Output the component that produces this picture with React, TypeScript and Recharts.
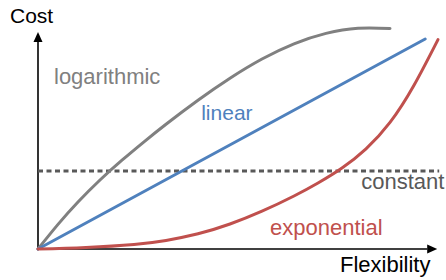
import {
  LineChart,
  Line,
  XAxis,
  YAxis,
  ReferenceLine,
  ReferenceDot,
} from "recharts";

// values (x: 0..100 flexibility, y: 0..~110 cost)
const logX = [0, 5, 10, 15.5, 21, 26.5, 32, 40, 48, 56, 64, 72, 80, 88];
const logY = [0, 12.3, 23.5, 34.5, 44.4, 53.6, 62.4, 74.4, 85.4, 95, 102.6, 107.8, 110.4, 110.3];

const linX = [0, 35.5, 96.8];
const linY = [0, 38.5, 105];

const expX = [0, 12, 24, 32, 40, 48, 56, 64, 70, 76, 82, 88, 94, 100];
const expY = [0, 0.8, 2.3, 4.3, 7.6, 12.5, 18.9, 26.5, 33, 40.5, 50.1, 63.3, 81.9, 104.7];

const constX = [0, 100.3];
const constY = [39, 39];

const labelNames = ["Cost", "logarithmic", "linear", "constant", "exponential", "Flexibility"];
const labelX = [-7, 4, 40.8, 80.8, 58, 75.5];
const labelY = [113, 82.5, 64.5, 30, 7, -11.5];
const labelColors = ["#000000", "#808080", "#4f81bd", "#595959", "#c0504d", "#000000"];
const labelSizes = [21, 22, 21, 22, 22, 22];

const toPoints = (xs: number[], ys: number[]) => xs.map((x, i) => ({ x, y: ys[i] }));

const logData = toPoints(logX, logY);
const linData = toPoints(linX, linY);
const expData = toPoints(expX, expY);
const constData = toPoints(constX, constY);

const FONT = "'Liberation Sans', Arial, sans-serif";

// axis line with an arrow head at its end
const ArrowLine = (props: any) => {
  const { x1, y1, x2, y2 } = props;
  const ang = Math.atan2(y2 - y1, x2 - x1);
  const len = 10;
  const half = 4.5;
  const bx = x2 - len * Math.cos(ang);
  const by = y2 - len * Math.sin(ang);
  const pts = [
    `${x2},${y2}`,
    `${bx - half * Math.sin(ang)},${by + half * Math.cos(ang)}`,
    `${bx + half * Math.sin(ang)},${by - half * Math.cos(ang)}`,
  ].join(" ");
  return (
    <g>
      <line x1={x1} y1={y1} x2={bx} y2={by} stroke="#000" strokeWidth={1.6} />
      <polygon points={pts} fill="#000" />
    </g>
  );
};

const makeText = (i: number) => (props: any) => (
  <text
    x={props.cx}
    y={props.cy}
    fill={labelColors[i]}
    fontSize={labelSizes[i]}
    fontFamily={FONT}
    textAnchor="start"
  >
    {labelNames[i]}
  </text>
);

const App = () => (
  <div style={{ position: "fixed", left: 0, top: 0, background: "#fff" }}>
    <LineChart
      width={446}
      height={280}
      margin={{ top: 20, right: 4, bottom: 31, left: 38 }}
    >
      <XAxis type="number" dataKey="x" domain={[0, 101]} hide />
      <YAxis type="number" dataKey="y" domain={[0, 114.5]} hide />
      <ReferenceLine
        segment={[{ x: 0, y: 0 }, { x: 0, y: 108.5 }]}
        shape={ArrowLine}
        ifOverflow="visible"
      />
      <ReferenceLine
        segment={[{ x: 0, y: 0 }, { x: 99.8, y: 0 }]}
        shape={ArrowLine}
        ifOverflow="visible"
      />
      <Line
        data={constData}
        dataKey="y"
        type="linear"
        stroke="#595959"
        strokeWidth={3}
        strokeDasharray="5 3.5"
        dot={false}
        isAnimationActive={false}
      />
      <Line
        data={logData}
        dataKey="y"
        type="natural"
        stroke="#808080"
        strokeWidth={3}
        strokeLinecap="round"
        dot={false}
        isAnimationActive={false}
      />
      <Line
        data={linData}
        dataKey="y"
        type="linear"
        stroke="#4f81bd"
        strokeWidth={3}
        strokeLinecap="round"
        dot={false}
        isAnimationActive={false}
      />
      <Line
        data={expData}
        dataKey="y"
        type="natural"
        stroke="#c0504d"
        strokeWidth={3}
        strokeLinecap="round"
        dot={false}
        isAnimationActive={false}
      />
      {labelNames.map((name, i) => (
        <ReferenceDot
          key={name}
          x={labelX[i]}
          y={labelY[i]}
          r={0}
          ifOverflow="visible"
          shape={makeText(i)}
        />
      ))}
    </LineChart>
  </div>
);

export default App;
